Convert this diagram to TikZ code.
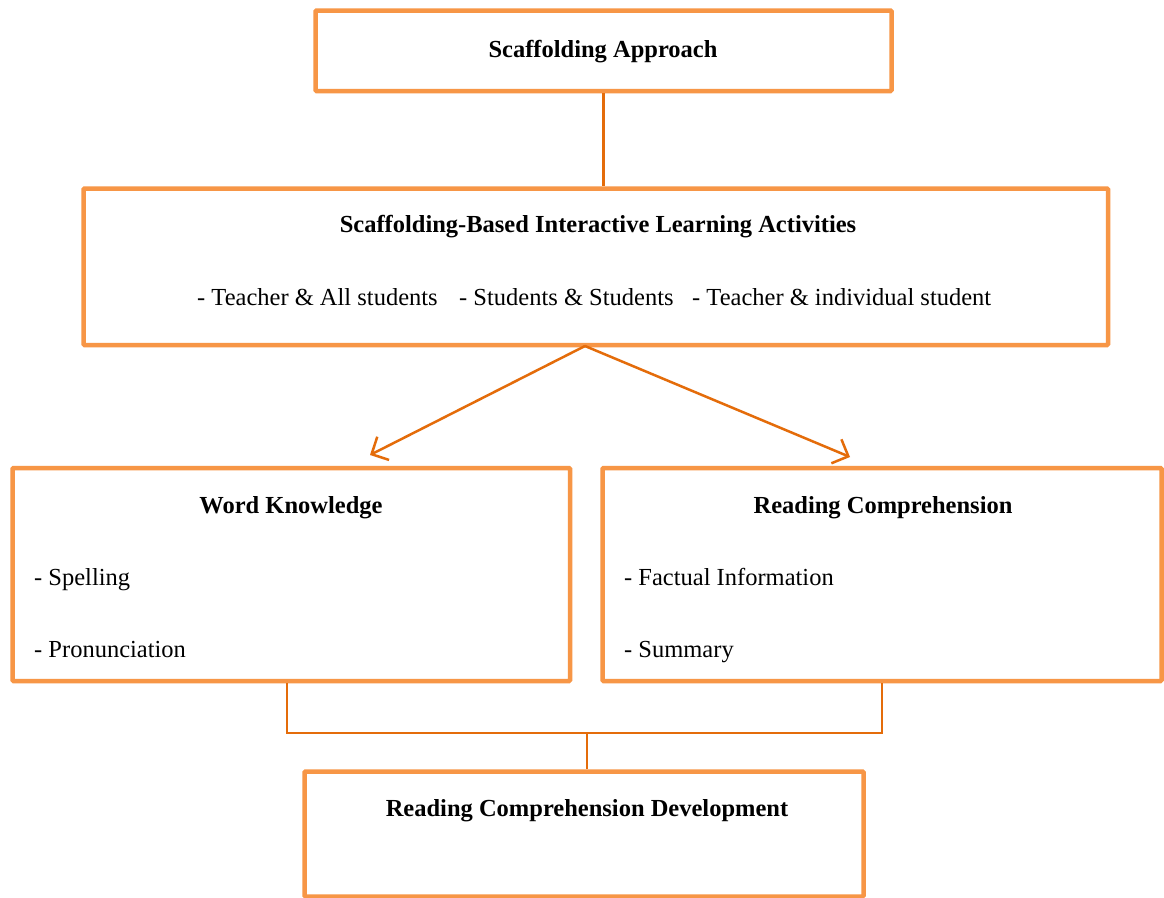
\documentclass[tikz,border=0pt]{standalone}
\usepackage{fontspec}
\setmainfont{Liberation Serif}
\usetikzlibrary{arrows.meta}
\definecolor{boxorange}{HTML}{F79646}
\definecolor{lineorange}{HTML}{E46C0A}
\begin{document}
\begin{tikzpicture}[x=1pt,y=-1pt,
  box/.style={draw=boxorange,line width=4.5pt,rectangle,inner sep=0pt,rounded corners=1pt},
  conn/.style={draw=lineorange,line width=2.5pt},
  arr/.style={conn,-{Straight Barb[length=13pt,width=26pt,line width=2.5pt]}},
  title/.style={font=\fontsize{24.5}{28}\selectfont\bfseries,inner sep=0pt,anchor=base},
  item/.style={font=\fontsize{24.5}{28}\selectfont,inner sep=0pt,anchor=base west}]
\useasboundingbox (0,0) rectangle (1164,897);
\fill[white] (0,0) rectangle (1164,897);
% boxes
\node[box,minimum width=576pt,minimum height=80.5pt] (top) at (603.5,50.75) {};
\node[box,minimum width=1024.5pt,minimum height=156.5pt] (mid) at (595.75,266.75) {};
\node[box,minimum width=557.5pt,minimum height=213pt] (wk) at (291.25,574.5) {};
\node[box,minimum width=559pt,minimum height=213pt] (rc) at (882,574.5) {};
\node[box,minimum width=559pt,minimum height=125pt] (dev) at (584,834) {};
% texts
\node[title] (t1) at (603,57) {Scaffolding Approach};
\node[title] (t2) at (598,232) {Scaffolding-Based Interactive Learning Activities};
\node[item] (m1) at (197,305) {- Teacher \& All students};
\node[item] (m2) at (459,305) {- Students \& Students};
\node[item] (m3) at (692,305) {- Teacher \& individual student};
\node[title] (t3) at (291,513) {Word Knowledge};
\node[item] (w1) at (34,585) {- Spelling};
\node[item] (w2) at (34,657) {- Pronunciation};
\node[title] (t4) at (883,513) {Reading Comprehension};
\node[item] (r1) at (624,585) {- Factual Information};
\node[item] (r2) at (624,657) {- Summary};
\node[title] (t5) at (587,816) {Reading Comprehension Development};
% connectors
\draw[conn] (top.south) -- (top.south |- mid.north);
\coordinate (apex) at (585,346);
\coordinate (tipL) at (370,455);
\coordinate (tipR) at (850,457);
\draw[arr] (apex) -- (tipL);
\draw[arr] (apex) -- (tipR);
\coordinate (join) at (587,733);
\draw[conn] (wk.south -| 287,0) |- (rc.south |- join) -- (rc.south);
\draw[conn] (join) -- (join |- dev.north);
\end{tikzpicture}
\end{document}
